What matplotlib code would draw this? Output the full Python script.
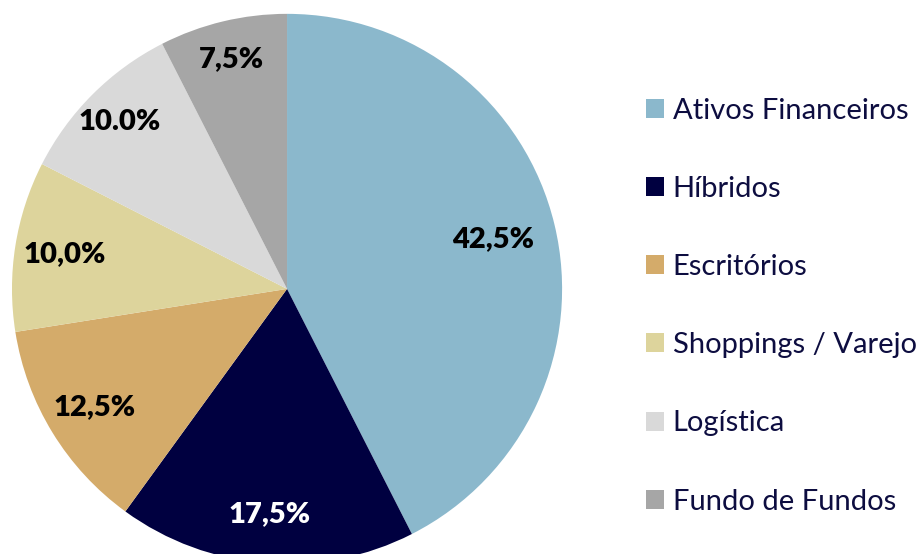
import matplotlib.pyplot as plt
import numpy as np

# data
categories = ['Ativos Financeiros', 'Híbridos', 'Escritórios',
              'Shoppings / Varejo', 'Logística', 'Fundo de Fundos']
shares = [42.5, 17.5, 12.5, 10.0, 10.0, 7.5]
pct_labels = ['42,5%', '17,5%', '12,5%', '10,0%', '10.0%', '7,5%']
colors = ['#8BB8CC', '#000040', '#D4AB6A', '#DDD49C', '#D9D9D9', '#A6A6A6']
label_colors = ['black', 'white', 'black', 'black', 'black', 'black']

plt.rcParams['font.family'] = ['Lato', 'DejaVu Sans']

fig = plt.figure(figsize=(9.2, 5.54), dpi=100)
ax = fig.add_axes([0.013, -0.018, 0.598, 0.993])

wedges, _ = ax.pie(shares, colors=colors, startangle=90, counterclock=False,
                   radius=1, wedgeprops=dict(linewidth=0))
ax.set_xlim(-1, 1)
ax.set_ylim(-1, 1)
ax.set_aspect('equal')
ax.axis('off')

# percentage labels near mid-angle; big slice label sits a bit inwards,
# the thin slices a bit further out (like Excel's best-fit placement)
for i, (w, txt, c) in enumerate(zip(wedges, pct_labels, label_colors)):
    ang = np.deg2rad((w.theta1 + w.theta2) / 2)
    if i == 0:
        r = 0.77
    elif i >= 4:
        r = 0.86
    else:
        r = 0.82
    ax.text(r * np.cos(ang), r * np.sin(ang), txt, ha='center', va='center',
            fontsize=21, fontweight='heavy', color=c)

leg = fig.legend(wedges, categories, loc='upper left',
                 bbox_to_anchor=(0.702, 0.824), frameon=False,
                 fontsize=21, handlelength=0.62, handleheight=0.62,
                 handletextpad=0.3, labelspacing=1.79, borderpad=0,
                 borderaxespad=0)
for t in leg.get_texts():
    t.set_color('#0D0D40')

fig.savefig('out.png', dpi=100)
